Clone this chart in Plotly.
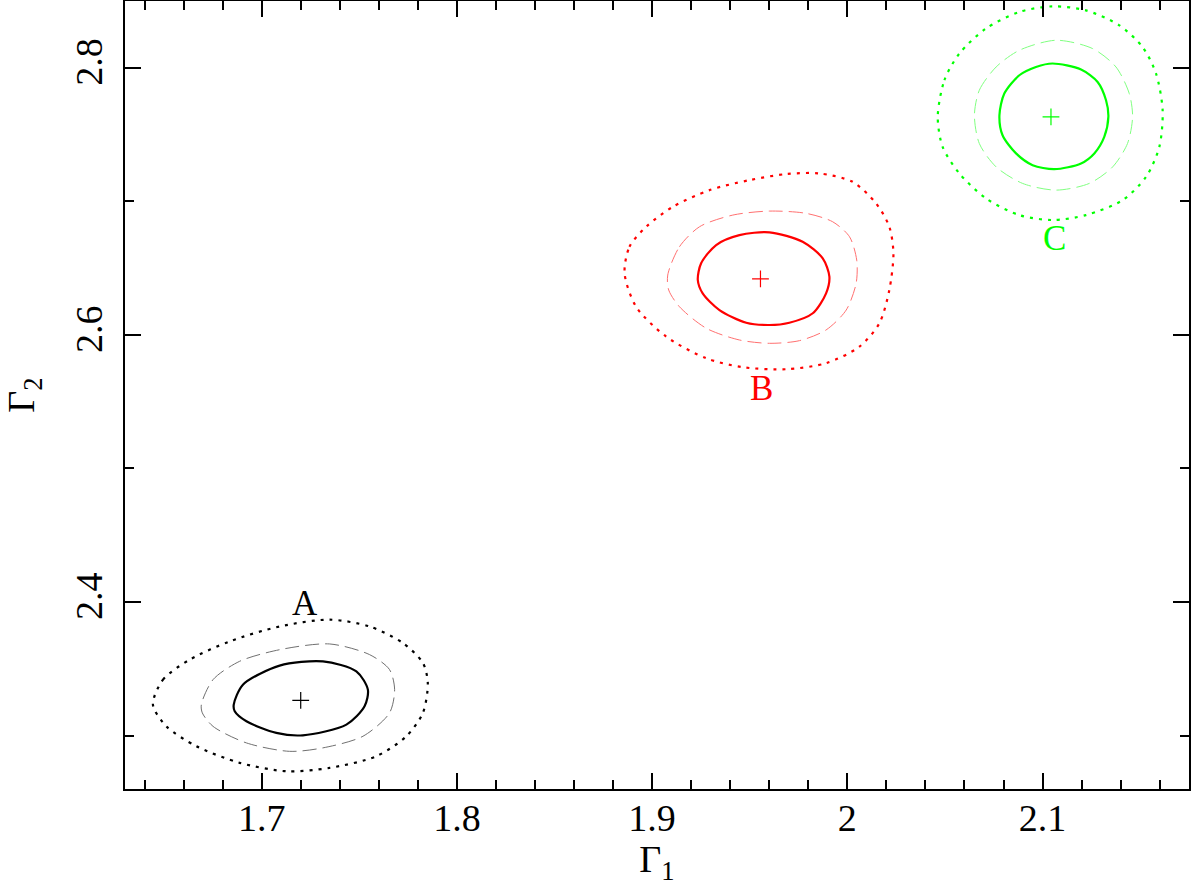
import plotly.graph_objects as go

# best-fit positions (Gamma_1, Gamma_2)
names = ['A', 'B', 'C']
colors = ['#000000', '#ff0000', '#00ff00']
dash_colors = ['#707070', '#ff7070', '#80ff80']
center_x = [1.7200, 1.9555, 2.1043]
center_y = [2.3264, 2.6419, 2.7633]
label_x = [1.722, 1.9562, 2.106]
label_y = [2.399, 2.5601, 2.6724]

# region A contours
a_x_68 = [1.6857, 1.6904, 1.7092, 1.7314, 1.7485, 1.7544, 1.7527, 1.7434, 1.7211, 1.7075, 1.6922, 1.6862]
a_y_68 = [2.3232, 2.3381, 2.3524, 2.3556, 2.3481, 2.3344, 2.3219, 2.3082, 2.3002, 2.3020, 2.3107, 2.3182]
a_x_90 = [1.6691, 1.6751, 1.6887, 1.7092, 1.7348, 1.7553, 1.7655, 1.7681, 1.7655, 1.7519, 1.7314, 1.7143,
          1.6922, 1.6751, 1.6696]
a_y_90 = [2.3232, 2.3419, 2.3556, 2.3643, 2.3686, 2.3606, 2.3494, 2.3344, 2.3170, 2.2995, 2.2908, 2.2882,
          2.2945, 2.3069, 2.3170]
a_x_99 = [1.6443, 1.6495, 1.6631, 1.6836, 1.7092, 1.7348, 1.7553, 1.7723, 1.7826, 1.7851, 1.7826, 1.7741,
          1.7587, 1.7348, 1.7126, 1.6887, 1.6666, 1.6512]
a_y_99 = [2.3232, 2.3419, 2.3568, 2.3705, 2.3817, 2.3868, 2.3817, 2.3693, 2.3544, 2.3394, 2.3170, 2.2995,
          2.2845, 2.2758, 2.2733, 2.2796, 2.2920, 2.3069]

# region B contours
b_x_68 = [1.9234, 1.9251, 1.9328, 1.9447, 1.9601, 1.9771, 1.9874, 1.9908, 1.9891, 1.9823, 1.9703, 1.9601,
          1.9482, 1.9345, 1.9259]
b_y_68 = [2.6411, 2.6536, 2.6673, 2.6747, 2.6768, 2.6697, 2.6573, 2.6436, 2.6311, 2.6162, 2.6091, 2.6074,
          2.6091, 2.6186, 2.6311]
b_x_90 = [1.9080, 1.9140, 1.9243, 1.9413, 1.9601, 1.9789, 1.9925, 2.0011, 2.0048, 2.0045, 1.9994, 1.9891,
          1.9755, 1.9601, 1.9447, 1.9277, 1.9140, 1.9085]
b_y_90 = [2.6448, 2.6660, 2.6810, 2.6897, 2.6927, 2.6910, 2.6847, 2.6735, 2.6560, 2.6386, 2.6186, 2.6037,
          2.5957, 2.5937, 2.5962, 2.6050, 2.6211, 2.6336]
b_x_99 = [1.8859, 1.8884, 1.8970, 1.9106, 1.9294, 1.9499, 1.9686, 1.9857, 2.0027, 2.0147, 2.0215, 2.0236,
          2.0215, 2.0164, 2.0062, 1.9891, 1.9686, 1.9464, 1.9277, 1.9072, 1.8918]
b_y_99 = [2.6461, 2.6660, 2.6810, 2.6959, 2.7084, 2.7159, 2.7204, 2.7209, 2.7146, 2.6985, 2.6810, 2.6611,
          2.6336, 2.6087, 2.5912, 2.5788, 2.5743, 2.5758, 2.5825, 2.5987, 2.6211]

# region C contours
c_x_68 = [2.0779, 2.0804, 2.0881, 2.0966, 2.1051, 2.1197, 2.1282, 2.1325, 2.1337, 2.1316, 2.1265, 2.1197,
          2.1060, 2.0949, 2.0864, 2.0795]
c_y_68 = [2.7645, 2.7807, 2.7944, 2.8006, 2.8032, 2.7987, 2.7894, 2.7757, 2.7633, 2.7483, 2.7359, 2.7284,
          2.7241, 2.7271, 2.7359, 2.7495]
c_x_90 = [2.0651, 2.0676, 2.0762, 2.0881, 2.1069, 2.1256, 2.1376, 2.1444, 2.1461, 2.1435, 2.1359, 2.1239,
          2.1069, 2.0898, 2.0762, 2.0676]
c_y_90 = [2.7645, 2.7832, 2.8006, 2.8131, 2.8206, 2.8144, 2.8006, 2.7807, 2.7633, 2.7433, 2.7258, 2.7134,
          2.7084, 2.7134, 2.7258, 2.7433]
c_x_99 = [2.0463, 2.0497, 2.0574, 2.0710, 2.0881, 2.1051, 2.1222, 2.1393, 2.1512, 2.1581, 2.1615, 2.1598,
          2.1530, 2.1410, 2.1222, 2.1051, 2.0881, 2.0710, 2.0574, 2.0488]
c_y_99 = [2.7633, 2.7907, 2.8107, 2.8294, 2.8418, 2.8460, 2.8430, 2.8318, 2.8156, 2.7957, 2.7682, 2.7408,
          2.7183, 2.7009, 2.6897, 2.6860, 2.6897, 2.7022, 2.7209, 2.7408]

contours = [
    [(a_x_68, a_y_68), (a_x_90, a_y_90), (a_x_99, a_y_99)],
    [(b_x_68, b_y_68), (b_x_90, b_y_90), (b_x_99, b_y_99)],
    [(c_x_68, c_y_68), (c_x_90, c_y_90), (c_x_99, c_y_99)],
]

FONT = 'Liberation Serif'

fig = go.Figure()

for i, group in enumerate(contours):
    styles = [
        dict(color=colors[i], width=2.2, dash='solid'),
        dict(color=dash_colors[i], width=1, dash='14px,6px'),
        dict(color=colors[i], width=2.2, dash='3px,6px'),
    ]
    for (xs, ys), st in zip(group, styles):
        fig.add_trace(go.Scatter(
            x=xs + xs[:1], y=ys + ys[:1],
            mode='lines', line=dict(shape='spline', smoothing=0.8, **st),
            showlegend=False, hoverinfo='skip'
        ))
    fig.add_trace(go.Scatter(
        x=[center_x[i]], y=[center_y[i]], mode='markers',
        marker=dict(symbol='cross-thin', size=12, line=dict(color=colors[i], width=1.2)),
        showlegend=False
    ))
    fig.add_annotation(
        x=label_x[i], y=label_y[i], text=names[i], showarrow=False,
        font=dict(size=35, color=colors[i], family=FONT)
    )

axis_style = dict(
    showgrid=False, zeroline=False, showline=True, linecolor='black', linewidth=2,
    mirror='allticks', ticks='inside', ticklen=16, tickwidth=2, tickcolor='black',
    tickfont=dict(size=38, family=FONT, color='black'),
)

fig.update_xaxes(
    range=[1.63, 2.175], tickvals=[1.7, 1.8, 1.9, 2.0, 2.1], ticktext=['1.7', '1.8', '1.9', '2', '2.1'],
    minor=dict(dtick=0.02, tick0=1.6, ticks='inside', ticklen=9, tickwidth=2, tickcolor='black'),
    title=dict(text='Γ<sub>1</sub>', font=dict(size=38, family=FONT, color='black'), standoff=4),
    ticklabelstandoff=-6,
    automargin=False,
    **axis_style
)
fig.update_yaxes(
    range=[2.26, 2.85], tickvals=[2.4, 2.6, 2.8], ticktext=['2.4', '2.6', '2.8'], tickangle=-90,
    minor=dict(dtick=0.1, tick0=2.3, ticks='inside', ticklen=9, tickwidth=2, tickcolor='black'),
    title=dict(text='Γ<sub>2</sub>', font=dict(size=38, family=FONT, color='black'), standoff=22),
    ticklabelstandoff=6,
    automargin=False,
    **axis_style
)

fig.update_layout(
    width=1200, height=886,
    margin=dict(l=125, r=11, t=1, b=97),
    plot_bgcolor='white', paper_bgcolor='white',
)

fig.write_html("out.html", config={'displayModeBar': False},
               post_script="document.body.style.margin='0px';")
